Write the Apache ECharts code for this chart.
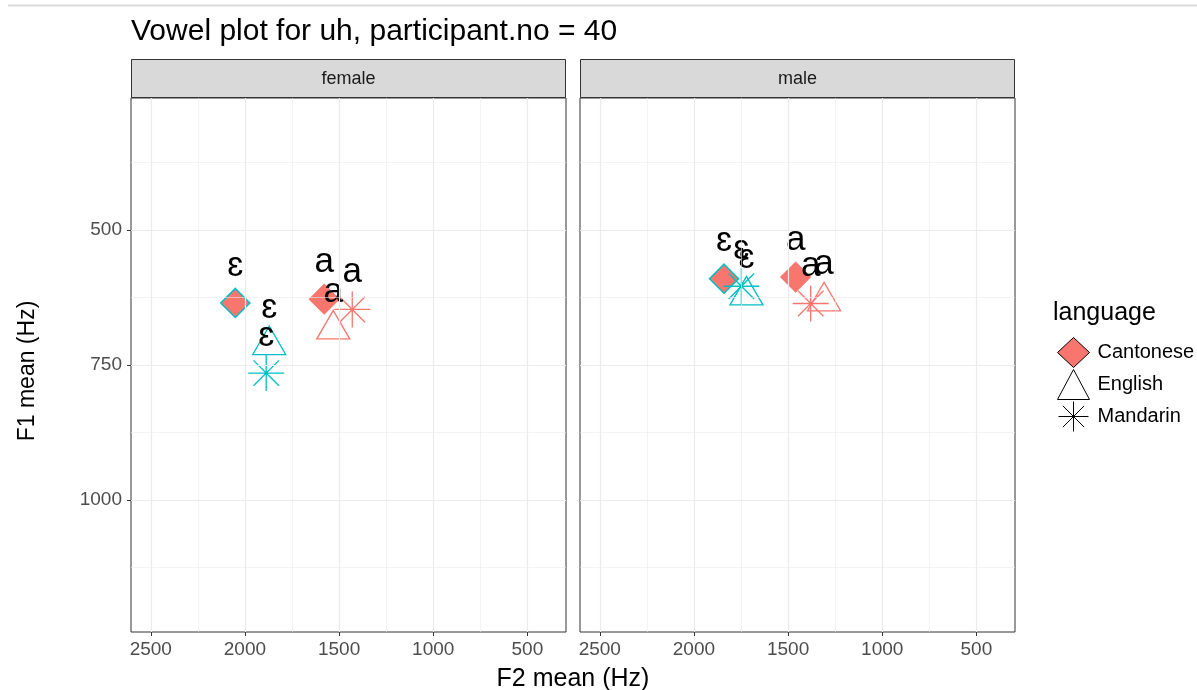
<!DOCTYPE html>
<html>
<head>
<meta charset="utf-8">
<script src="https://cdn.jsdelivr.net/npm/echarts@6/dist/echarts.min.js"></script>
<style>
  html, body { margin: 0; padding: 0; background: #ffffff; }
  #chart { width: 1197px; height: 690px; }
</style>
</head>
<body>
<div id="chart"></div>
<script>
// ---------------- data ----------------
const panels = ['female', 'male'];
const vowels = ['ɛ', 'a'];
const languages = ['Cantonese', 'English', 'Mandarin'];
// rows: language (Cantonese, English, Mandarin); columns: vowel (ɛ, a)
const femaleF2 = [[2051, 1579], [1871, 1531], [1887, 1430]];
const femaleF1 = [[635, 628], [713, 684], [765, 647]];
const maleF2 = [[1840, 1460], [1721, 1309], [1748, 1380]];
const maleF1 = [[590, 587], [621, 632], [604, 636]];
const xTicks = [500, 1000, 1500, 2000, 2500];
const xMinor = [750, 1250, 1750, 2250];
const yTicks = [500, 750, 1000];
const yMinor = [375, 625, 875, 1125];
const xRange = [295, 2605];
const yRange = [255, 1245];

// ---------------- styling ----------------
const FONT = 'Liberation Sans, Arial, Helvetica, sans-serif';
const vowelColors = ['#00BFC4', '#F8766D'];
const asterisk = 'path://M0,-1.414L0,1.414M-1.414,0L1.414,0M-1,-1L1,1M-1,1L1,-1';
const langSymbol = ['diamond', 'triangle', asterisk];
const langSize = [29, [33, 28.5], 36];
const langOffset = [[0, 0], [0, -4.75], [0, 0]];
const labelDy = -37;

const gridDefs = [
  { left: 131, top: 98, width: 435, height: 534 },
  { left: 580, top: 98, width: 435, height: 534 }
];

const F2 = [femaleF2, maleF2];
const F1 = [femaleF1, maleF1];

const grids = gridDefs.map(g => Object.assign({
  show: true, backgroundColor: '#ffffff', borderColor: '#333333', borderWidth: 1, containLabel: false
}, g));

const plain = v => String(v);

const xAxes = gridDefs.map((g, p) => ({
  type: 'value', gridIndex: p, inverse: true, min: xRange[0], max: xRange[1],
  axisLine: { show: false },
  splitLine: { show: false },
  axisTick: { show: true, customValues: xTicks, length: 4, lineStyle: { color: '#333333', width: 1 } },
  axisLabel: { show: true, customValues: xTicks, formatter: plain, color: '#4D4D4D', fontSize: 19, fontFamily: FONT, margin: 8 }
}));

const yAxes = gridDefs.map((g, p) => ({
  type: 'value', gridIndex: p, inverse: true, min: yRange[0], max: yRange[1],
  axisLine: { show: false },
  splitLine: { show: false },
  axisTick: { show: p === 0, customValues: yTicks, length: 4, lineStyle: { color: '#333333', width: 1 } },
  axisLabel: { show: p === 0, customValues: yTicks, formatter: plain, color: '#4D4D4D', fontSize: 19, fontFamily: FONT, margin: 9 }
}));

const series = [];
// gridline helper series (drawn under the points)
gridDefs.forEach((g, p) => {
  const lines = []
    .concat(xTicks.map(v => ({ xAxis: v, lineStyle: { width: 1.2 } })))
    .concat(xMinor.map(v => ({ xAxis: v, lineStyle: { width: 0.6 } })))
    .concat(yTicks.map(v => ({ yAxis: v, lineStyle: { width: 1.2 } })))
    .concat(yMinor.map(v => ({ yAxis: v, lineStyle: { width: 0.6 } })));
  series.push({
    type: 'scatter', name: 'grid' + p, xAxisIndex: p, yAxisIndex: p, z: 1,
    data: [], silent: true,
    markLine: {
      silent: true, symbol: ['none', 'none'], animation: false,
      label: { show: false },
      lineStyle: { color: '#EBEBEB', type: 'solid' },
      emphasis: { disabled: true },
      data: lines
    }
  });
});

panels.forEach((panel, p) => {
  languages.forEach((lang, l) => {
    series.push({
      type: 'scatter', name: lang, xAxisIndex: p, yAxisIndex: p, z: 3,
      symbol: langSymbol[l], symbolSize: langSize[l], symbolOffset: langOffset[l],
      animation: false, silent: true,
      emphasis: { disabled: true },
      itemStyle: { opacity: 1 },
      label: {
        show: true, position: 'inside', formatter: '{b}',
        color: '#000000', fontSize: 35, fontFamily: FONT
      },
      labelLayout: { hideOverlap: false, dy: labelDy - langOffset[l][1] },
      data: vowels.map((v, i) => ({
        name: v,
        value: [F2[p][l][i], F1[p][l][i]],
        itemStyle: l === 0
          ? { color: '#F8766D', borderColor: vowelColors[i], borderWidth: 1.6, opacity: 1 }
          : { color: 'rgba(0,0,0,0)', borderColor: vowelColors[i], borderWidth: 1.3, opacity: 1 }
      }))
    });
  });
});

const graphics = [
  // clipped caption rule at the very top
  { type: 'line', shape: { x1: 8, y1: 5.5, x2: 1197, y2: 5.5 }, style: { stroke: '#D9D9D9', lineWidth: 2 }, silent: true },
  { type: 'text', x: 131, y: 32, style: { text: 'Vowel plot for uh, participant.no = 40', fill: '#000', font: '30px ' + FONT, textAlign: 'left', textVerticalAlign: 'middle' } },
  { type: 'text', x: 573, y: 679, style: { text: 'F2 mean (Hz)', fill: '#000', font: '25px ' + FONT, textAlign: 'center', textVerticalAlign: 'middle' } },
  { type: 'text', x: 28, y: 371, rotation: Math.PI / 2, style: { text: 'F1 mean (Hz)', fill: '#000', font: '23px ' + FONT, textAlign: 'center', textVerticalAlign: 'middle' } },
  { type: 'text', x: 1053, y: 313, style: { text: 'language', fill: '#000', font: '25px ' + FONT, textAlign: 'left', textVerticalAlign: 'middle' } }
];
gridDefs.forEach((g, p) => {
  graphics.push({ type: 'rect', shape: { x: g.left + 0.5, y: 59.5, width: g.width - 1, height: 38 }, style: { fill: '#D9D9D9', stroke: '#333333', lineWidth: 1 }, silent: true });
  graphics.push({ type: 'text', x: g.left + g.width / 2, y: 79, style: { text: panels[p], fill: '#1A1A1A', font: '18px ' + FONT, textAlign: 'center', textVerticalAlign: 'middle' } });
});

const option = {
  animation: false,
  backgroundColor: '#ffffff',
  grid: grids,
  xAxis: xAxes,
  yAxis: yAxes,
  legend: {
    orient: 'vertical', left: 1052, top: 332, itemWidth: 32, itemHeight: 30, itemGap: 1,
    selectedMode: false,
    textStyle: { fontSize: 20, color: '#000', fontFamily: FONT, padding: [0, 0, 0, 3] },
    data: [
      { name: 'Cantonese', icon: 'diamond', itemStyle: { color: '#F8766D', borderColor: '#000', borderWidth: 1 } },
      { name: 'English', icon: 'triangle', itemStyle: { color: 'rgba(0,0,0,0)', borderColor: '#000', borderWidth: 1 } },
      { name: 'Mandarin', icon: asterisk, itemStyle: { color: 'rgba(0,0,0,0)', borderColor: '#000', borderWidth: 1 } }
    ]
  },
  graphic: graphics,
  series: series
};

const chart = echarts.init(document.getElementById('chart'), null, { renderer: 'canvas' });
chart.setOption(option);
</script>
</body>
</html>
